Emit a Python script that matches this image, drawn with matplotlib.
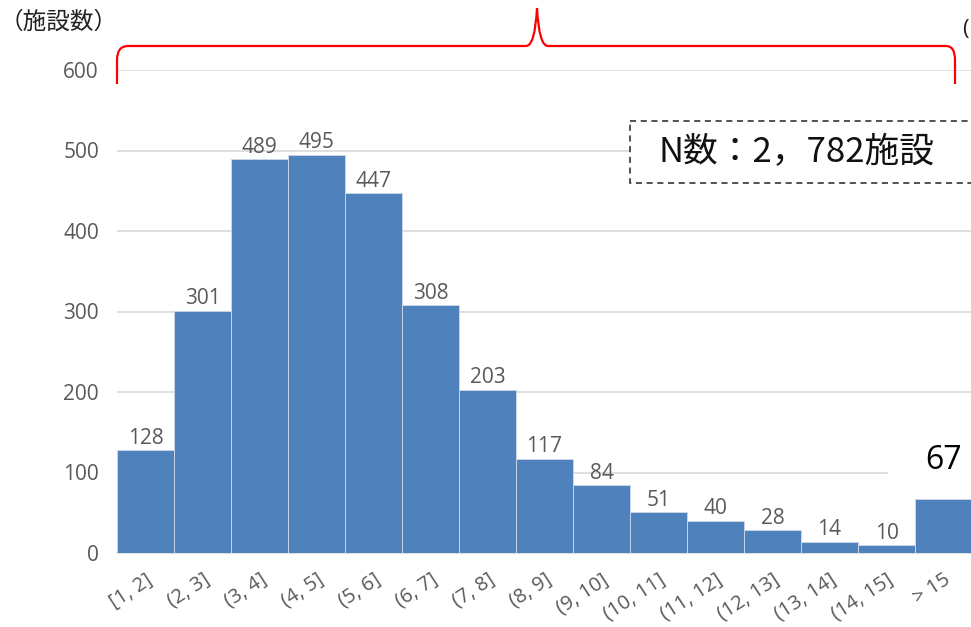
import matplotlib
matplotlib.use('Agg')
import matplotlib.pyplot as plt
from matplotlib.path import Path
from matplotlib.patches import PathPatch, Rectangle

plt.rcParams['font.family'] = ['Open Sans', 'Noto Sans CJK JP', 'DejaVu Sans']

categories = ['[1, 2]', '(2, 3]', '(3, 4]', '(4, 5]', '(5, 6]', '(6, 7]', '(7, 8]',
              '(8, 9]', '(9, 10]', '(10, 11]', '(11, 12]', '(12, 13]', '(13, 14]',
              '(14, 15]', '> 15']
counts = [128, 301, 489, 495, 447, 308, 203, 117, 84, 51, 40, 28, 14, 10, 67]
yticks = [0, 100, 200, 300, 400, 500, 600]
total_label = 'N数：2，782施設'
unit_label = '（施設数）'

bar_color = '#4F81BD'
gray = '#595959'

fig = plt.figure(figsize=(9.71, 6.27), dpi=100)
W, H = 971, 627
ax = fig.add_axes([117 / W, 1 - 553 / H, 855 / W, (553 - 70) / H])

x = list(range(len(counts)))
ax.bar(x, counts, width=1.0, color=bar_color, edgecolor='#c9d6e8', linewidth=0.7, zorder=3)
ax.set_xlim(-0.5, len(counts) - 0.5)
ax.set_ylim(0, 600)
ax.yaxis.grid(True, color='#d9d9d9', linewidth=1.2, zorder=0)
ax.set_axisbelow(True)
ax.tick_params(axis='both', length=0, labelcolor=gray)
ax.tick_params(axis='y', pad=13, labelsize=15)
ax.tick_params(axis='x', pad=12, labelsize=14.5)
ax.set_yticks(yticks)
ax.set_yticklabels([str(v) for v in yticks])
ax.set_xticks(x)
ax.set_xticklabels(categories, rotation=33, ha='right', rotation_mode='anchor')
for s in ['left', 'right', 'top']:
    ax.spines[s].set_visible(False)
ax.spines['bottom'].set_color('#d9d9d9')
ax.spines['bottom'].set_linewidth(1.2)

# value labels
for i, v in enumerate(counts[:-1]):
    ax.annotate(str(v), (i, v), xytext=(0, 1), textcoords='offset points',
                ha='center', va='bottom', fontsize=15, color=gray)
# white patch behind the big last label, over the grid
ax.add_patch(Rectangle((13.03, 85), 2.0, 30, facecolor='white', edgecolor='none', zorder=1))
ax.annotate(str(counts[-1]), (len(counts) - 1, counts[-1]), xytext=(0, 16),
            textcoords='offset points', ha='center', va='bottom', fontsize=23, color='black')

# overlay in pixel coords
ov = fig.add_axes([0, 0, 1, 1], zorder=5)
ov.set_xlim(0, W)
ov.set_ylim(H, 0)
ov.axis('off')

ov.text(0, 22, unit_label, fontsize=17, color='#222222', va='center', ha='left',
        family=['Noto Sans CJK JP', 'DejaVu Sans'])
ov.text(962, 30, '(', fontsize=16, color='#222222', va='center', ha='left')

# red brace
verts = [(117, 84), (117, 60), (117, 46), (128, 46),
         (526, 46), (535, 46), (537, 8),
         (539, 46), (548, 46),
         (946, 46), (955, 46), (955, 60), (955, 84)]
codes = [Path.MOVETO, Path.LINETO, Path.CURVE3, Path.CURVE3,
         Path.LINETO, Path.CURVE3, Path.CURVE3,
         Path.CURVE3, Path.CURVE3,
         Path.LINETO, Path.CURVE3, Path.CURVE3, Path.LINETO]
ov.add_patch(PathPatch(Path(verts, codes), facecolor='none', edgecolor='red', linewidth=1.6))

# dashed box with total
ov.add_patch(Rectangle((630, 121), 360, 62, facecolor='white', edgecolor='#222222',
                       linewidth=1.1, linestyle=(0, (4, 3))))
ov.text(658, 153, total_label, fontsize=25, color='#111111', va='center', ha='left',
        family=['Noto Sans CJK JP', 'DejaVu Sans'])

fig.savefig('out.png', dpi=100)
